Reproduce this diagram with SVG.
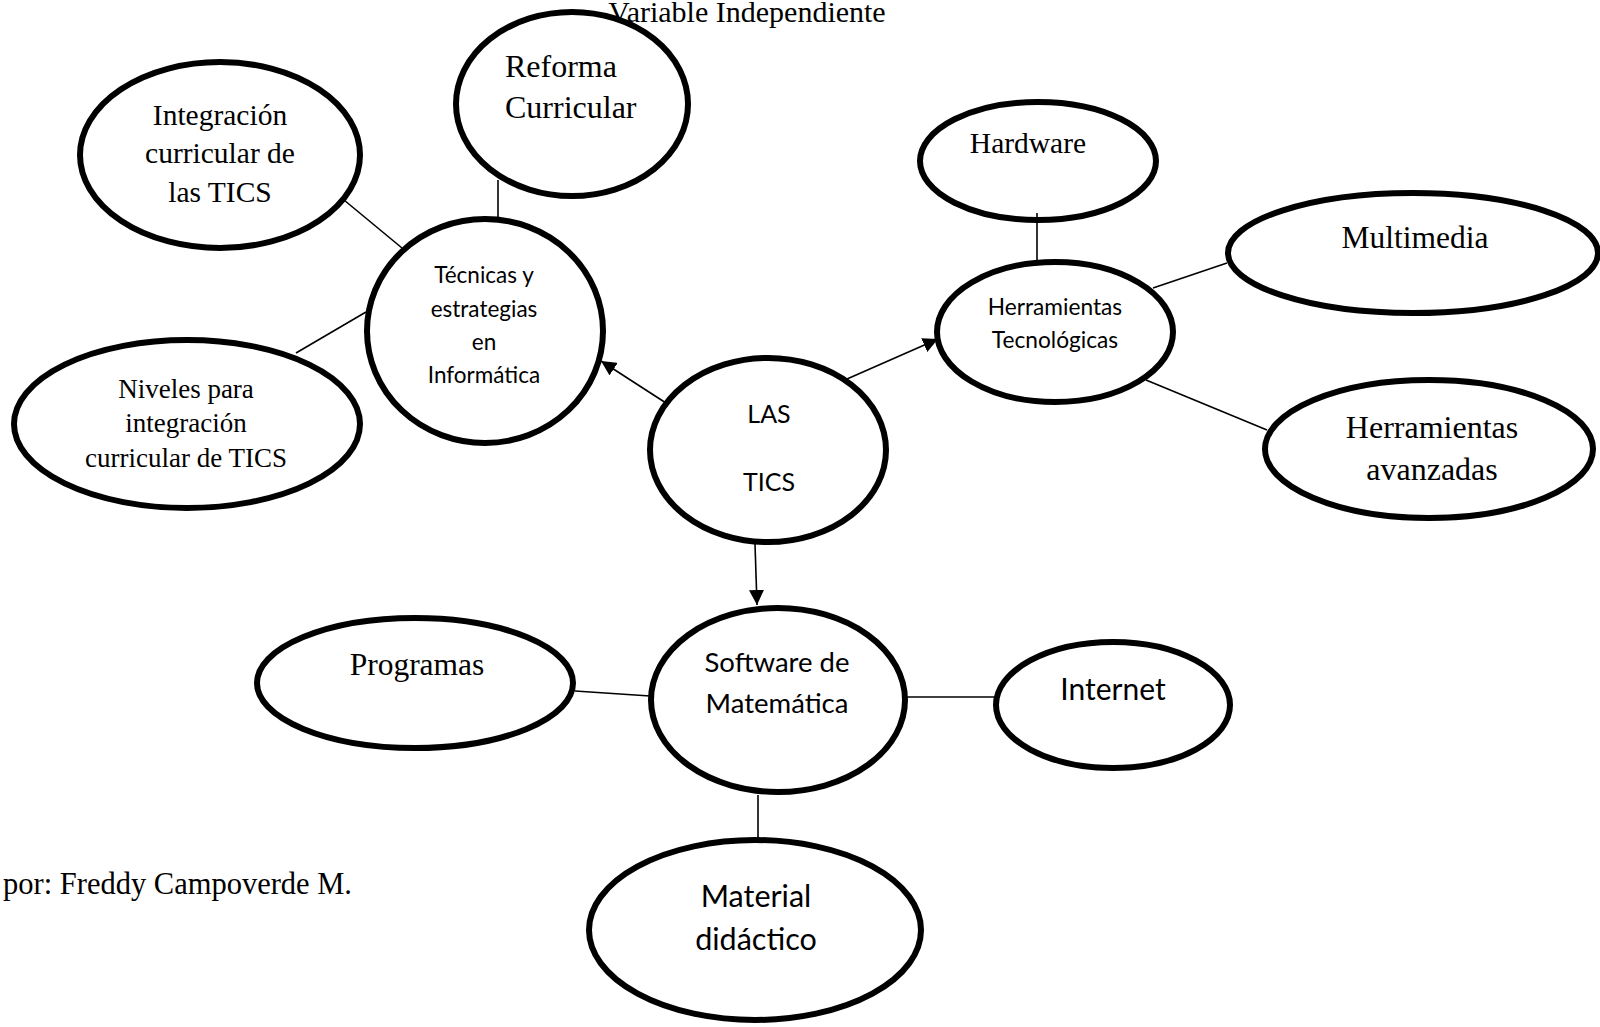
<svg xmlns="http://www.w3.org/2000/svg" width="1600" height="1027" viewBox="0 0 1600 1027">
<defs>
<style>
.n{fill:#fff;stroke:#000;stroke-width:6}
.c{stroke:#000;stroke-width:1.6;fill:none}
.s{font-family:"Liberation Serif","Times New Roman",serif;fill:#000;text-anchor:middle}
.a{font-family:Lato,"Open Sans","Liberation Sans",sans-serif;fill:#000;text-anchor:middle}
</style>
<marker id="ar" viewBox="0 0 15 15" refX="15" refY="7.5" markerWidth="15" markerHeight="15" markerUnits="userSpaceOnUse" orient="auto"><path d="M0,0L15,7.5L0,15z" fill="#000"/></marker>
</defs>
<rect width="1600" height="1027" fill="#fff"/>
<text class="s" x="747" y="22" font-size="30">Variable Independiente</text>
<g id="reforma">
<ellipse class="n" cx="572" cy="104" rx="116" ry="92"/>
<text class="s" x="505" y="77" font-size="32" style="text-anchor:start">Reforma</text>
<text class="s" x="505" y="118" font-size="32" style="text-anchor:start">Curricular</text>
</g>
<g id="integracion">
<ellipse class="n" cx="220" cy="155" rx="140" ry="93"/>
<text class="s" x="220" y="125" font-size="29.5">Integración</text>
<text class="s" x="220" y="163" font-size="29.5">curricular de</text>
<text class="s" x="220" y="202" font-size="29.5">las TICS</text>
</g>
<g id="tecnicas">
<ellipse class="n" cx="485" cy="331" rx="118" ry="112"/>
<text class="a" x="484" y="283" font-size="22.5">Técnicas y</text>
<text class="a" x="484" y="317" font-size="22.5">estrategias</text>
<text class="a" x="484" y="350" font-size="22.5">en</text>
<text class="a" x="484" y="383" font-size="22.5">Informática</text>
</g>
<g id="niveles">
<ellipse class="n" cx="187" cy="424" rx="173" ry="84"/>
<text class="s" x="186" y="398" font-size="27">Niveles para</text>
<text class="s" x="186" y="432" font-size="27">integración</text>
<text class="s" x="186" y="467" font-size="27">curricular de TICS</text>
</g>
<g id="lastics">
<ellipse class="n" cx="768" cy="450" rx="118" ry="92"/>
<text class="a" x="769" y="423" font-size="25">LAS</text>
<text class="a" x="769" y="491" font-size="25">TICS</text>
</g>
<g id="herramientas-tec">
<ellipse class="n" cx="1055" cy="332" rx="118" ry="70"/>
<text class="a" x="1055" y="315" font-size="22.7">Herramientas</text>
<text class="a" x="1055" y="348" font-size="22.7">Tecnológicas</text>
</g>
<g id="hardware">
<ellipse class="n" cx="1038" cy="161" rx="118" ry="59"/>
<text class="s" x="1028" y="153" font-size="29.5">Hardware</text>
</g>
<g id="multimedia">
<ellipse class="n" cx="1413" cy="253" rx="185" ry="60"/>
<text class="s" x="1415" y="248" font-size="31.5">Multimedia</text>
</g>
<g id="herramientas-av">
<ellipse class="n" cx="1429" cy="449" rx="164" ry="69"/>
<text class="s" x="1432" y="438" font-size="32">Herramientas</text>
<text class="s" x="1432" y="480" font-size="32">avanzadas</text>
</g>
<g id="software">
<ellipse class="n" cx="778" cy="700" rx="127" ry="92"/>
<text class="a" x="777" y="672" font-size="27.5">Software de</text>
<text class="a" x="777" y="713" font-size="27.5">Matemática</text>
</g>
<g id="programas">
<ellipse class="n" cx="415" cy="683" rx="158" ry="65"/>
<text class="s" x="417" y="675" font-size="31.5">Programas</text>
</g>
<g id="internet">
<ellipse class="n" cx="1113" cy="705" rx="117" ry="63"/>
<text class="a" x="1113" y="700" font-size="30">Internet</text>
</g>
<g id="material">
<ellipse class="n" cx="755" cy="930" rx="166" ry="90"/>
<text class="a" x="756" y="907" font-size="30.5">Material</text>
<text class="a" x="756" y="950" font-size="30.5">didáctico</text>
</g>
<g id="connectors">
<line class="c" x1="498" y1="180" x2="498" y2="218"/>
<line class="c" x1="344" y1="200" x2="402" y2="248"/>
<line class="c" x1="296" y1="353" x2="366" y2="312"/>
<line class="c" x1="666" y1="403" x2="601" y2="361" marker-end="url(#ar)"/>
<line class="c" x1="847" y1="379" x2="938" y2="339" marker-end="url(#ar)"/>
<line class="c" x1="755" y1="544" x2="757" y2="605" marker-end="url(#ar)"/>
<line class="c" x1="1037" y1="213" x2="1037" y2="262"/>
<line class="c" x1="1153" y1="288" x2="1227" y2="263"/>
<line class="c" x1="1146" y1="380" x2="1267" y2="430"/>
<line class="c" x1="575" y1="691" x2="650" y2="696"/>
<line class="c" x1="905" y1="697" x2="998" y2="697"/>
<line class="c" x1="758" y1="795" x2="758" y2="840"/>
</g>
<text class="s" x="352" y="894" font-size="30.5" style="text-anchor:end">por: Freddy Campoverde M.</text>
</svg>
